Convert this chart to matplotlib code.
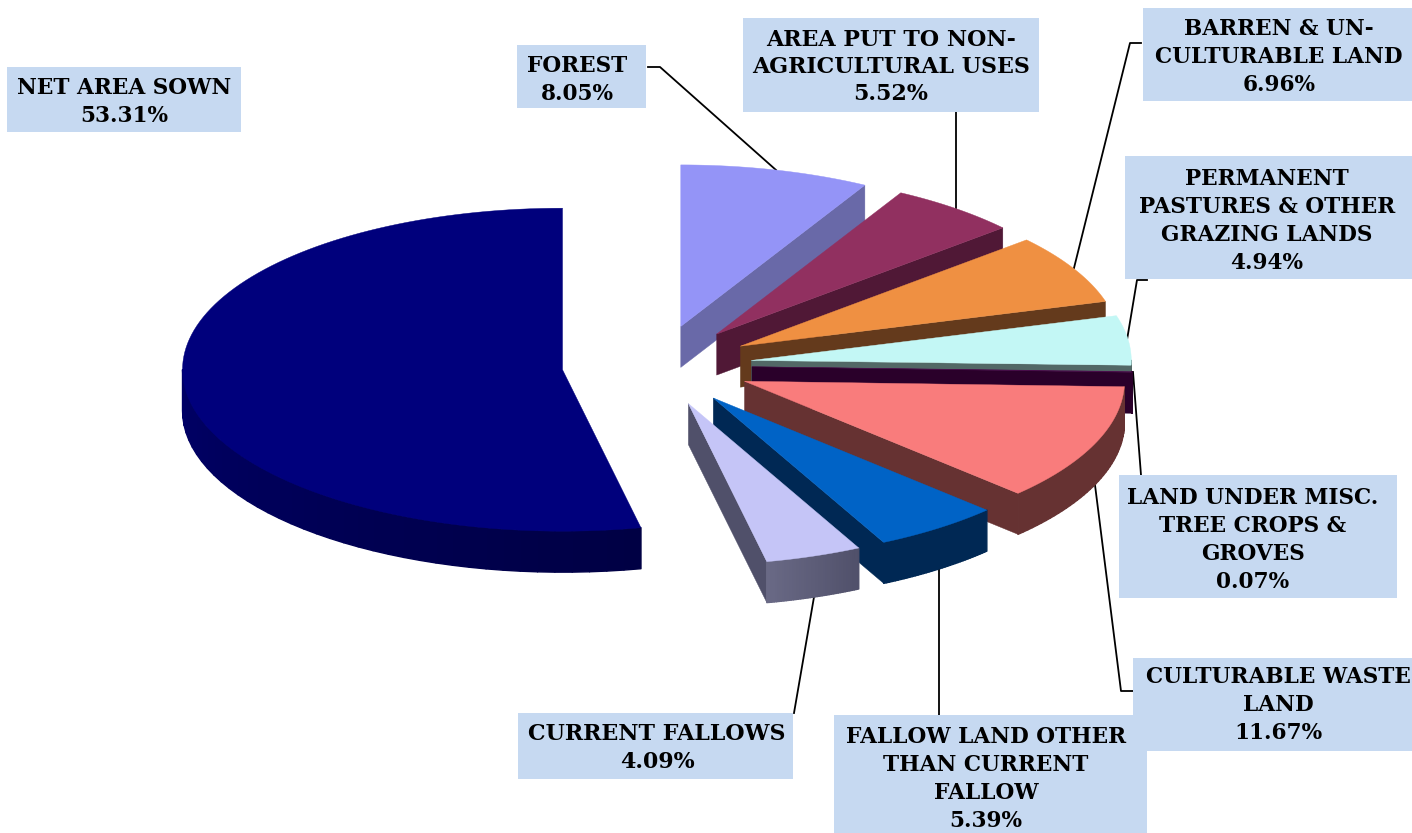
import numpy as np
import matplotlib
matplotlib.use('Agg')
import matplotlib.pyplot as plt
from matplotlib.collections import PolyCollection
from matplotlib.patches import Polygon, Rectangle

# valores do grafico (sentido horario a partir do topo)
categories = ['FOREST', 'AREA PUT TO NON-\nAGRICULTURAL USES', 'BARREN & UN-\nCULTURABLE LAND',
              'PERMANENT\nPASTURES & OTHER\nGRAZING LANDS', 'LAND UNDER MISC.\nTREE CROPS &\nGROVES',
              'CULTURABLE WASTE\nLAND', 'FALLOW LAND OTHER\nTHAN CURRENT\nFALLOW', 'CURRENT FALLOWS',
              'NET AREA SOWN']
values = [8.05, 5.52, 6.96, 4.94, 0.07, 11.67, 5.39, 4.09, 53.31]
top_colors = ['#9494F7', '#913060', '#EF9042', '#C3F7F5', '#4A0A4A', '#F97C7C', '#0063C6', '#C5C5F7', '#00007C']
wall_colors = ['#6969A8', '#501836', '#643A1C', '#526866', '#2A002A', '#663232', '#002854', '#50506A', '#00005A']
rim_far = ['#6969A8', '#501836', '#643A1C', '#526866', '#2A002A', '#663232', '#002854', '#50506A', '#000044']
rim_near = ['#6969A8', '#501836', '#643A1C', '#526866', '#2A002A', '#663232', '#002854', '#696985', '#000066']

# caixas: x0, y0, x1, y1 e centro do texto
boxes = [(517, 45, 646, 108), (743, 18, 1039, 112), (1143, 8, 1412, 101), (1125, 156, 1412, 279),
         (1119, 475, 1397, 598), (1133, 658, 1412, 751), (834, 715, 1147, 833), (518, 713, 793, 779),
         (7, 67, 241, 132)]
text_pos = [(577, 80), (891, 67), (1279, 57), (1267, 221), (1253, 540), (1278, 705), (986, 779), (657, 748), (124, 102)]
font_sizes = [15.6, 15.9, 15.6, 15.6, 15.6, 15.6, 15.6, 15.9, 15.6]
leaders = [[(648, 67), (660, 67), (776, 170)],
           [(956, 112), (956, 208)],
           [(1141, 43), (1130, 43), (1074, 268)],
           [(1147, 280), (1137, 280), (1127, 340)],
           [(1133, 372), (1141, 475)],
           [(1095, 485), (1121, 691), (1133, 691)],
           [(939, 568), (939, 715)],
           [(814, 597), (794, 713)]]

# geometria do pie
cx, cy = 657, 365.5
rx, ry = 380, 161.5
explode = 0.25
depth = 41


def point(theta, ox, oy):
    return ox + rx * np.sin(theta), oy - ry * np.cos(theta)


def lerp_color(c1, c2, t):
    a = np.array(matplotlib.colors.to_rgb(c1))
    b = np.array(matplotlib.colors.to_rgb(c2))
    return tuple(a + (b - a) * t)


fig = plt.figure(figsize=(14.12, 8.33), dpi=100)
ax = fig.add_axes([0, 0, 1, 1])
ax.set_xlim(0, 1412)
ax.set_ylim(833, 0)
ax.axis('off')

for line in leaders:
    ax.plot([p[0] for p in line], [p[1] for p in line], color='black', lw=1.3, zorder=1)

edges = np.cumsum([0] + values) / sum(values) * 2 * np.pi

for i in range(len(values)):
    t0, t1 = edges[i], edges[i + 1]
    mid = (t0 + t1) / 2
    ox = cx + explode * rx * np.sin(mid)
    oy = cy - explode * ry * np.cos(mid)
    z = 2 + i * 0.1

    # face radial final, visivel so na metade direita
    if t1 < np.pi:
        ex, ey = point(t1, ox, oy)
        ax.add_patch(Polygon([(ox, oy), (ex, ey), (ex, ey + depth), (ox, oy + depth)],
                             fc=wall_colors[i], ec=wall_colors[i], lw=0.3, zorder=z))

    # parede externa, so a parte da frente
    a0, a1 = max(t0, np.pi / 2), min(t1, 3 * np.pi / 2)
    if a1 > a0:
        tt = np.linspace(a0, a1, 40)
        quads, cols = [], []
        for k in range(len(tt) - 1):
            x0, y0 = point(tt[k], ox, oy)
            x1, y1 = point(tt[k + 1], ox, oy)
            quads.append([(x0, y0), (x1, y1), (x1, y1 + depth), (x0, y0 + depth)])
            cols.append(lerp_color(rim_far[i], rim_near[i], k / (len(tt) - 2)))
        ax.add_collection(PolyCollection(quads, facecolors=cols, edgecolors=cols, linewidths=1.0, zorder=z))

    # topo da fatia
    tt = np.linspace(t0, t1, 120)
    xs, ys = point(tt, ox, oy)
    verts = [(ox, oy)] + list(zip(xs, ys))
    ax.add_patch(Polygon(verts, fc=top_colors[i], ec=top_colors[i], lw=0.3, zorder=z + 0.05))

for i in range(len(categories)):
    x0, y0, x1, y1 = boxes[i]
    ax.add_patch(Rectangle((x0, y0), x1 - x0, y1 - y0, fc='#C6D9F1', ec='none', zorder=5))
    # mantem o mesmo passo entre linhas
    spacing = 1.34 * 15.6 / font_sizes[i]
    ax.text(text_pos[i][0], text_pos[i][1], f'{categories[i]}\n{values[i]:.2f}%', ha='center', va='center',
            multialignment='center', family='DejaVu Serif', weight='bold', fontsize=font_sizes[i],
            linespacing=spacing, color='black', zorder=6, clip_on=True)

fig.savefig('out.png', dpi=100, facecolor='white')
